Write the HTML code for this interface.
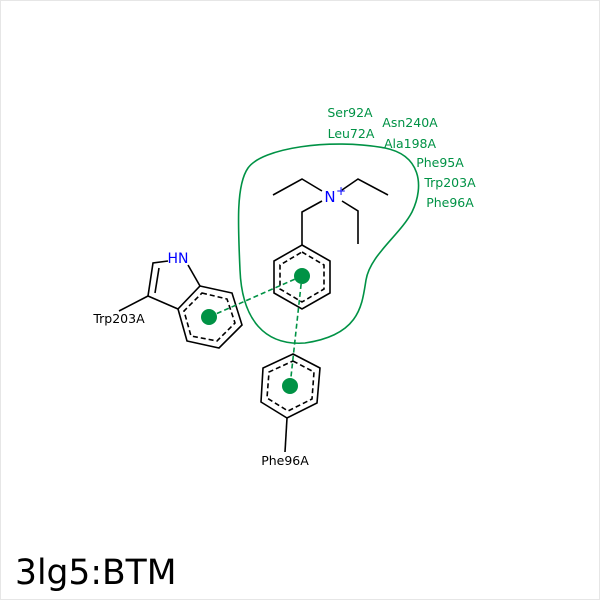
<!DOCTYPE html>
<html><head><style>body{margin:0;background:#fff}svg{display:block}</style></head><body>
<svg width="600" height="600" viewBox="0 0 600 600" xmlns="http://www.w3.org/2000/svg" font-family="DejaVu Sans, Liberation Sans, sans-serif">
<rect x="0.5" y="0.5" width="599" height="599" fill="#fff" stroke="#e6e6e6"/>
<path d="M240,270 C238,225 236,185 248,168 C262,148 330,138 385,148 C420,155 425,185 412,212 C400,235 370,255 366,280 C362,305 360,335 305,343 C265,346 242,320 240,270 Z" fill="none" stroke="#009245" stroke-width="1.6"/>
<g stroke="#000" stroke-width="1.6" fill="none">
<polygon points="302,245 330,261 330,293 302,309 274,293 274,261"/>
<polygon points="302,252 324,265 324,289 302,302 280,289 280,265" stroke-dasharray="5,3"/>
<polyline points="302,245 302,212 322,201"/>
<polyline points="322,191 302,179 273,195"/>
<polyline points="342,190 358,179 388,195"/>
<polyline points="342,201 358,211 358,244"/>
<polygon points="200,286 232,293 242,325 219,348 187,341 178,309"/>
<polygon points="202,293 227,299 235,323 217,341 191,336 184,311" stroke-dasharray="5,3"/>
<polyline points="200,286 188,265"/>
<polyline points="168,261 153,263 148,296 178,309"/>
<line x1="159" y1="268" x2="155" y2="293"/>
<line x1="148" y1="296" x2="119" y2="311"/>
<polygon points="293,354 320,368 317,403 287,418 261,402 263,368"/>
<polygon points="293,361 314,372 312,399 288,411 267,398 269,372" stroke-dasharray="5,3"/>
<line x1="287" y1="418" x2="285" y2="452"/>
</g>
<g stroke="#009245" stroke-width="1.6" stroke-dasharray="5,3">
<line x1="302" y1="276" x2="209" y2="317"/>
<line x1="302" y1="276" x2="290" y2="386"/>
</g>
<g fill="#009245"><circle cx="302" cy="276" r="8"/><circle cx="209" cy="317" r="8"/><circle cx="290" cy="386" r="8"/></g>
<text x="330" y="202" font-size="15" fill="#0000ff" text-anchor="middle">N</text>
<text x="341" y="195" font-size="12" fill="#0000ff" text-anchor="middle">+</text>
<text x="178" y="263" font-size="14" fill="#0000ff" text-anchor="middle">HN</text>
<g font-size="12.5" fill="#000" text-anchor="middle">
<text x="119" y="323">Trp203A</text>
<text x="285" y="465">Phe96A</text>
</g>
<g font-size="12.5" fill="#009245" text-anchor="middle">
<text x="350" y="117">Ser92A</text>
<text x="410" y="127">Asn240A</text>
<text x="351" y="138">Leu72A</text>
<text x="410" y="148">Ala198A</text>
<text x="440" y="167">Phe95A</text>
<text x="450" y="187">Trp203A</text>
<text x="450" y="207">Phe96A</text>
</g>
<text x="15" y="584" font-size="34.5" fill="#000">3lg5:BTM</text>
</svg>
</body></html>
